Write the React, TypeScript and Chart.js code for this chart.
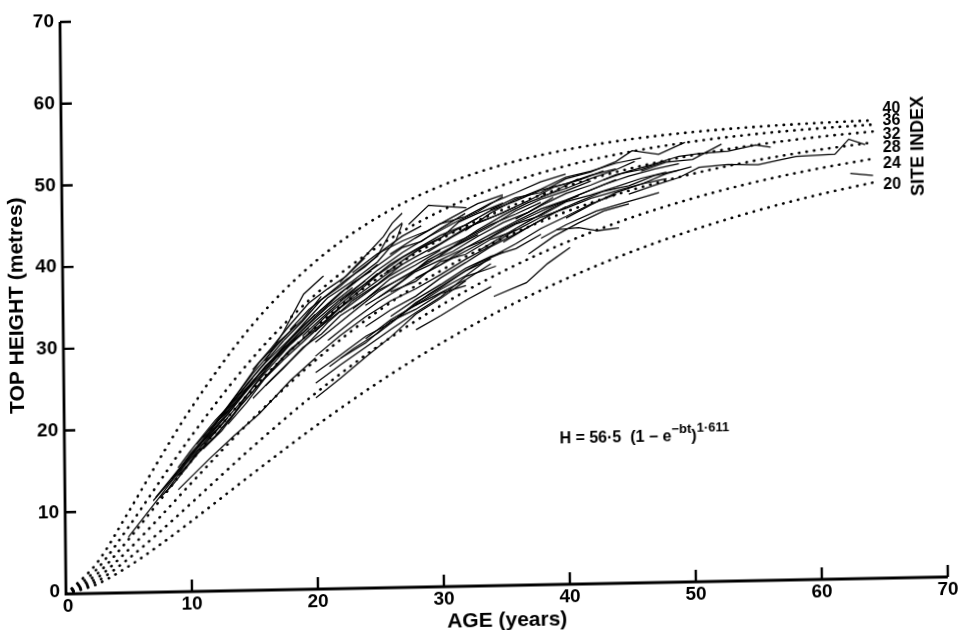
import React, { useEffect, useRef } from "react";
import { Chart, registerables } from "chart.js";
Chart.register(...registerables);

// ---- Axis ticks ----
const xTickValues = [0, 10, 20, 30, 40, 50, 60, 70];
const yTickValues = [0, 10, 20, 30, 40, 50, 60, 70];

// ---- Site index curves ----
const siteIndexes = [40, 36, 32, 28, 24, 20];
const curveAges = [0, 2.5, 5, 7.5, 10, 15, 20, 25, 30, 35, 40, 45, 50, 55, 60, 64.5];
const curve40 = [0, 3.76, 9.81, 16.2, 22.25, 32.46, 40, 45.32, 48.99, 51.48, 53.15, 54.27, 55.02, 55.52, 55.85, 56.05];
const curve36 = [0, 3.0, 8.0, 13.47, 18.86, 28.42, 36, 41.72, 45.94, 48.99, 51.18, 52.74, 53.85, 54.63, 55.18, 55.54];
const curve32 = [0, 2.4, 6.51, 11.16, 15.87, 24.63, 32, 37.9, 42.49, 46.01, 48.67, 50.68, 52.18, 53.29, 54.13, 54.69];
const curve28 = [0, 1.91, 5.26, 9.15, 13.21, 21.05, 28, 33.86, 38.66, 42.51, 45.58, 48.01, 49.9, 51.39, 52.54, 53.36];
const curve24 = [0, 1.49, 4.18, 7.38, 10.79, 17.64, 24, 29.61, 34.43, 38.48, 41.85, 44.63, 46.9, 48.76, 50.26, 51.37];
const curve20 = [0, 1.14, 3.24, 5.8, 8.59, 14.38, 20, 25.18, 29.81, 33.89, 37.41, 40.44, 43.02, 45.21, 47.06, 48.47];
const siteCurves = [curve40, curve36, curve32, curve28, curve24, curve20];
// label anchor heights (metres) at the right end
const siteLabelHeights = [57.5, 55.95, 54.24, 52.65, 50.69, 48.12];

// ---- Observed plots: [age, top height] ----
const p01 = [[5,6.8],[7.5,11.6],[10,16.6],[12.5,21.0],[15,25.6],[17.5,29.8],[20,33.6]];
const p02 = [[7,11.2],[9,14.6],[11,18.3],[13,21.6],[15.5,26.4],[18,30.3],[21,34.5],[23,36.8]];
const p03 = [[7.2,11.6],[9,14.9],[10.5,17.6],[12,20.4],[14,24.0],[16,27.2]];
const p04 = [[7.5,11.5],[8.5,13.0],[10,15.8],[11.5,18.6],[13,21.2]];
const p05 = [[8,12.2],[9.5,15.4],[11,18.0],[12.5,20.8],[14.5,24.4],[17,28.6],[19.5,32.0]];
const p06 = [[8.5,13.8],[10,16.9],[11.5,19.4],[13,22.4],[15,26.0]];
const p07 = [[9,14.2],[10.5,16.8],[12,19.0],[14,22.6],[16,26.1],[18,29.4],[20,31.8],[22.5,35.0]];
const p08 = [[9,15.2],[10,17.2],[12,20.9],[13.5,23.3],[15.5,27.0],[17.5,30.5]];
const p09 = [[9,12.5],[11.5,16.2],[13.5,19.0],[15.5,21.6],[18,25.6],[20,28.3]];
const p10 = [[10,16.0],[11,18.0],[12.5,20.4],[14,23.0],[16,26.6],[18,30.0],[20,32.8],[22,35.4],[24,37.6]];
const p11 = [[10.5,18.0],[12,20.6],[13.5,23.6],[15,26.5],[17,30.0],[18.5,32.4]];
const p12 = [[11,17.4],[12.5,19.6],[14,22.6],[15.5,25.2],[17.5,28.2],[20,31.6],[22,34.0]];
const p13 = [[12,19.0],[13.5,21.7],[15,24.9],[16.5,27.8],[18,30.7],[19.5,33.2],[21,35.6],[23,37.6],[25,39.9],[26.5,42.5],[27,44.5]];
const p14 = [[12.5,21.4],[14,24.6],[15.5,27.8],[17,30.2],[19,33.0],[20.5,35.8]];
const p15 = [[13,20.4],[14.5,23.0],[16,26.0],[17.5,28.5],[19,30.6],[21,33.6],[23,36.0],[25,38.5]];
const p16 = [[16,28.0],[17.5,31.6],[19.1,36.1],[20.7,38.3]];
const p17 = [[15,27.0],[16.5,29.6],[18,32.4],[19.5,35.0],[21,36.7],[22.5,38.2],[24,40.4]];
const p18 = [[15,23.5],[16.5,25.8],[18,28.0],[19.5,30.2],[21,32.6],[23,35.2],[25,37.2],[27,39.6]];
const p19 = [[16,25.0],[17.5,27.2],[19,29.6],[20.5,31.2],[22,33.4],[24,35.3],[26,37.8],[28,39.4],[30,41.2]];
const p20 = [[17,28.5],[18.5,31.0],[20,33.3],[21.5,35.4],[23,37.4],[24.5,38.8]];
const p21 = [[17.5,30.5],[19,32.8],[20.5,35.4],[22,37.0],[23.5,38.9],[25,40.6],[26,43.3],[27,44.6]];
const p22 = [[18,31.8],[19.5,34.2],[21,36.0],[22.5,37.8],[24,39.3],[25.5,41.4],[27,43.0],[28.5,44.2]];
const p23 = [[20,23.4],[22,25.8],[24,28.3],[26,30.7],[28,33.4],[30,35.3],[32,37.4]];
const p24 = [[20,25.2],[22,27.4],[24,29.5],[26,31.6],[28,33.6],[30,35.5],[32,37.9],[34.4,39.1]];
const p25 = [[21.1,27.2],[23,29.3],[25,31.2],[27,33.5],[29,35.8],[31,37.7],[33,39.5],[35,40.8]];
const p26 = [[20,28.5],[22,31.0],[24,33.2],[26,35.1],[28,36.5],[30,38.2],[32,40.0],[34,41.6],[36,43.5]];
const p27 = [[20,30.2],[21.5,32.0],[23,33.8],[25,36.2],[27,38.0],[29,39.6],[31,41.5],[33,43.0]];
const p28 = [[20,31.5],[22,34.4],[24,36.5],[26,38.7],[28,40.4],[30,42.0],[32,43.8],[34,45.0],[36,46.3]];
const p29 = [[21,33.2],[23,35.7],[25,38.3],[27,40.4],[29,42.0],[31,43.4],[33,45.0]];
const p30 = [[22,33.8],[24,36.0],[26,38.2],[28,39.9],[30,41.3],[32,42.6],[34,44.2],[36,45.4],[38,46.8]];
const p31 = [[22.5,36.6],[24,38.4],[25.5,40.0],[27,41.6],[28.5,42.3],[30,43.8],[32,45.6]];
const p32 = [[23,34.2],[25,36.4],[27,37.9],[29,39.8],[31,41.0],[33,42.8],[35,44.4],[37,45.6],[39,47.4]];
const p33 = [[22,37.5],[24,40.6],[25.5,43.0],[26.2,44.6],[27,45.8]];
const p34 = [[27.5,44.4],[29.1,46.7],[32.1,46.3]];
const p35 = [[24,32.0],[26,34.0],[28,35.6],[30,37.8],[32,39.6],[34,41.5],[36,43.0],[38,44.6],[40,46.2]];
const p36 = [[24,30.5],[26,32.8],[28,34.5],[30,36.0],[32,37.5],[34,39.4]];
const p37 = [[25,35.5],[27,37.6],[29,40.0],[31,41.6],[33,43.6],[35,45.3],[37,46.8],[39,48.0],[41,49.6]];
const p38 = [[25.5,38.4],[27,40.0],[28.5,41.5],[30,42.6],[31.5,44.6],[33,45.6],[35,46.8]];
const p39 = [[28,37.8],[30,39.4],[32,41.4],[34,43.0],[36,44.5],[38,46.0],[40,47.0],[42,48.2],[44,49.4]];
const p40 = [[28,34.5],[30,36.4],[32,38.0],[34,40.2],[36,41.8],[38,43.6],[40,45.0],[42,46.5],[44,47.6]];
const p41 = [[29,41.0],[31,42.8],[33,44.5],[35,45.6],[37,47.0],[39,48.6],[41,49.4],[43,50.5]];
const p42 = [[28,31.5],[30,33.2],[32,35.0],[34,36.6]];
const p43 = [[34.2,35.4],[36.8,37.0],[38.5,39.3],[40.3,41.2]];
const p44 = [[39.2,43.4],[41,43.6],[42.5,43.2],[44.2,43.5]];
const p45 = [[32,43.5],[34,45.6],[36,47.2],[38,48.4],[40,49.8],[42,50.5],[44,51.4],[46,52.0]];
const p46 = [[33,41.0],[35,42.8],[37,44.5],[39,46.2],[41,47.6],[43,48.8],[45,49.8],[47,50.6],[49,51.2]];
const p47 = [[34,46.0],[36,47.4],[38,48.0],[40,49.6],[42,50.4],[44,51.6],[45.3,52.9],[47.4,52.4],[49.5,53.8]];
const p48 = [[35,42.0],[37,43.8],[39,45.5],[41,46.8],[43,48.0],[45,48.6],[47,49.8],[49,50.4]];
const p49 = [[36,44.8],[38,46.4],[40,47.8],[42,48.8],[44,50.0],[46,50.6],[48,51.6]];
const p50 = [[37,40.5],[39,42.6],[41,44.2],[43,45.6],[45,46.4]];
const p51 = [[38,47.5],[40,48.4],[42,49.6],[44,50.6],[45.5,51.6]];
const p52 = [[40,44.8],[42,46.4],[44,47.8],[46,48.8],[48,50.0],[50,50.8]];
const p53 = [[45,47.6],[47,48.6],[49,49.5],[50.6,50.7],[52.9,51.0],[55.3,50.9],[58.3,51.8],[61.4,52.0],[62.5,53.8],[63.8,53.1]];
const p54 = [[43,49.4],[45,50.4],[47,51.2],[49,52.1],[50.6,52.4],[52.9,52.6],[55.1,53.3],[56.3,53.0]];
const p55 = [[46,50.4],[48,51.4],[50.1,51.7],[52.4,53.5]];
const p56 = [[62.6,49.6],[64.4,49.3]];
const p57 = [[38,42.4],[40,44.0],[42.4,45.6],[45,46.7],[47.4,47.7]];
const p58 = [[19,31.0],[21,33.8],[23,36.4],[25,38.9],[27,41.0],[29,42.8],[31,44.4],[33,45.8],[35,47.6]];
const p59 = [[21,30.4],[23,32.8],[25,35.0],[27,36.8],[29,38.6],[31,40.2],[33,41.8],[35,43.6],[37,45.0],[39,46.4],[41,47.5]];
const p60 = [[22,35.2],[24,37.2],[26,39.6],[28,41.3],[30,43.0],[32,44.2],[34,45.9],[36,47.0],[38,48.3],[40,49.0],[42,50.0],[44,50.7]];
const p61 = [[24,34.6],[26,36.4],[28,38.6],[30,40.0],[32,41.4],[34,42.6],[36,44.2],[38,45.2],[40,46.8],[42,47.6],[44,48.5],[46,49.5],[48,50.2]];
const p62 = [[26,36.2],[28,37.4],[30,39.8],[32,40.6],[34,42.4],[36,43.4],[38,45.0],[40,46.0],[42,47.2],[44,48.0],[46,48.8],[48,49.4]];
const p63 = [[13,22.4],[14.5,25.2],[16,27.8],[17.5,30.0],[19,32.2],[20.5,34.2],[22,36.2],[23.5,37.8],[25,39.6]];
const p64 = [[11,18.8],[12,20.6],[13,22.0],[14.5,24.6],[16,27.4],[17.5,29.6],[19,31.4]];
const p65 = [[20,26.5],[22,28.6],[24,30.8],[26,32.4],[28,34.8],[30,36.6],[32,38.6],[34,40.0]];
const p66 = [[22,28.2],[24,30.0],[26,32.6],[28,34.0],[30,35.9],[32,36.8]];
const p67 = [[26,33.2],[28,35.2],[30,37.0],[32,38.9],[34,40.3],[36,41.2],[38,42.9]];
const p68 = [[23,38.6],[25,40.9],[27,42.4],[29,43.6],[31,45.2],[33,46.8],[35,47.8]];
const p69 = [[26,40.8],[28,42.7],[30,44.4],[32,45.2],[34,46.8],[36,48.0],[38,49.3],[40,50.2]];
const p70 = [[30,40.6],[32,42.4],[34,44.0],[36,45.8],[38,47.2],[40,48.1],[42,49.3]];

const plots = [p01,p02,p03,p04,p05,p06,p07,p08,p09,p10,p11,p12,p13,p14,p15,p16,p17,p18,p19,p20,
  p21,p22,p23,p24,p25,p26,p27,p28,p29,p30,p31,p32,p33,p34,p35,p36,p37,p38,p39,p40,
  p41,p42,p43,p44,p45,p46,p47,p48,p49,p50,p51,p52,p53,p54,p55,p56,p57,p58,p59,p60,
  p61,p62,p63,p64,p65,p66,p67,p68,p69,p70];

// ---- Text ----
const xTitle = "AGE (years)";
const yTitle = "TOP HEIGHT (metres)";
const siteTitle = "SITE INDEX";
const formulaMain = "H = 56·5  (1 − e";
const formulaExp1 = "−bt";
const formulaClose = ")";
const formulaExp2 = "1·611";
const formulaAt = [39.3, 17.3];
const siteLabelAge = 65.2;
const siteTitleAt = [68.0, 52.8];

const FONT = '"Liberation Sans", Arial, Helvetica, sans-serif';

const decorPlugin = {
  id: "decor",
  afterDraw(chart: any) {
    const { ctx } = chart;
    const xs = chart.scales.x;
    const ys = chart.scales.y;
    const x0 = xs.getPixelForValue(0);
    const y0 = ys.getPixelForValue(0);
    ctx.save();
    ctx.strokeStyle = "#000";
    ctx.fillStyle = "#000";
    ctx.lineCap = "butt";
    // axis lines
    ctx.lineWidth = 2.8;
    ctx.beginPath();
    ctx.moveTo(x0, ys.getPixelForValue(70));
    ctx.lineTo(x0, y0);
    ctx.lineTo(xs.getPixelForValue(70), y0);
    ctx.stroke();
    // ticks (inside)
    ctx.lineWidth = 2.4;
    ctx.beginPath();
    xTickValues.forEach((v) => {
      if (v === 0) return;
      const px = xs.getPixelForValue(v);
      ctx.moveTo(px, y0);
      ctx.lineTo(px, y0 - 12);
    });
    yTickValues.forEach((v) => {
      if (v === 0) return;
      const py = ys.getPixelForValue(v);
      ctx.moveTo(x0, py);
      ctx.lineTo(x0 + 11, py);
    });
    ctx.stroke();
    // tick labels
    ctx.font = `bold 19px ${FONT}`;
    ctx.textBaseline = "middle";
    ctx.textAlign = "center";
    xTickValues.forEach((v) => {
      ctx.fillText(String(v), xs.getPixelForValue(v) + (v === 0 ? 2 : 0), y0 + 13);
    });
    ctx.textAlign = "right";
    yTickValues.forEach((v) => {
      ctx.fillText(String(v), x0 - 6, ys.getPixelForValue(v) - (v === 0 ? 2 : 0));
    });
    // axis titles
    ctx.font = `bold 21px ${FONT}`;
    ctx.textAlign = "center";
    ctx.fillText(xTitle, xs.getPixelForValue(35), y0 + 35);
    ctx.save();
    ctx.translate(x0 - 46, ys.getPixelForValue(35.4));
    ctx.rotate(-Math.PI / 2);
    ctx.fillText(yTitle, 0, 0);
    ctx.restore();
    // site index labels
    ctx.font = `bold 16px ${FONT}`;
    ctx.textAlign = "left";
    siteIndexes.forEach((s, i) => {
      ctx.fillText(String(s), xs.getPixelForValue(siteLabelAge), ys.getPixelForValue(siteLabelHeights[i]));
    });
    ctx.font = `bold 18px ${FONT}`;
    ctx.textAlign = "center";
    ctx.save();
    ctx.translate(xs.getPixelForValue(siteTitleAt[0]), ys.getPixelForValue(siteTitleAt[1]));
    ctx.rotate(-Math.PI / 2);
    ctx.fillText(siteTitle, 0, 0);
    ctx.restore();
    // formula
    ctx.textAlign = "left";
    ctx.textBaseline = "alphabetic";
    let cx = xs.getPixelForValue(formulaAt[0]);
    const fy = ys.getPixelForValue(formulaAt[1]);
    const big = `bold 16px ${FONT}`;
    const small = `bold 13px ${FONT}`;
    const part = (t: string, f: string, dy: number) => {
      ctx.font = f;
      ctx.fillText(t, cx, fy + dy);
      cx += ctx.measureText(t).width;
    };
    part(formulaMain, big, 0);
    part(formulaExp1, small, -8);
    part(formulaClose, big, 0);
    part(formulaExp2, small, -9);
    ctx.restore();
  },
};

export default function App() {
  const ref = useRef<HTMLCanvasElement | null>(null);
  useEffect(() => {
    if (!ref.current) return;
    const curveSets = siteCurves.map((c) => ({
      data: curveAges.map((a, i) => ({ x: a, y: c[i] })),
      borderColor: "#000",
      borderWidth: 2.6,
      borderDash: [0.4, 7.2],
      borderCapStyle: "round",
      cubicInterpolationMode: "monotone",
      pointRadius: 0,
      fill: false,
    }));
    const plotSets = plots.map((p) => ({
      data: p.map(([a, h]) => ({ x: a, y: h })),
      borderColor: "#000",
      borderWidth: 1.25,
      tension: 0,
      pointRadius: 0,
      fill: false,
    }));
    const chart = new Chart(ref.current, {
      type: "line",
      data: { datasets: [...curveSets, ...plotSets] as any },
      options: {
        animation: false,
        responsive: false,
        events: [],
        layout: { padding: { left: 66, right: 16, top: 22, bottom: 66 } },
        plugins: { legend: { display: false }, tooltip: { enabled: false } },
        scales: {
          x: { type: "linear", min: 0, max: 70, display: false },
          y: { type: "linear", min: 0, max: 70, display: false },
        },
        elements: { point: { radius: 0 } },
      } as any,
      plugins: [decorPlugin],
    });
    return () => chart.destroy();
  }, []);
  return (
    <div style={{ position: "fixed", left: 0, top: 0, width: 964, height: 630, overflow: "hidden", background: "#fff" }}>
      <canvas
        ref={ref}
        width={964}
        height={660}
        style={{
          display: "block",
          width: 964,
          height: 660,
          transform: "matrix(1, -0.0193, 0.0105, 1, 0, 0)",
          transformOrigin: "66px 594px",
        }}
      />
    </div>
  );
}
